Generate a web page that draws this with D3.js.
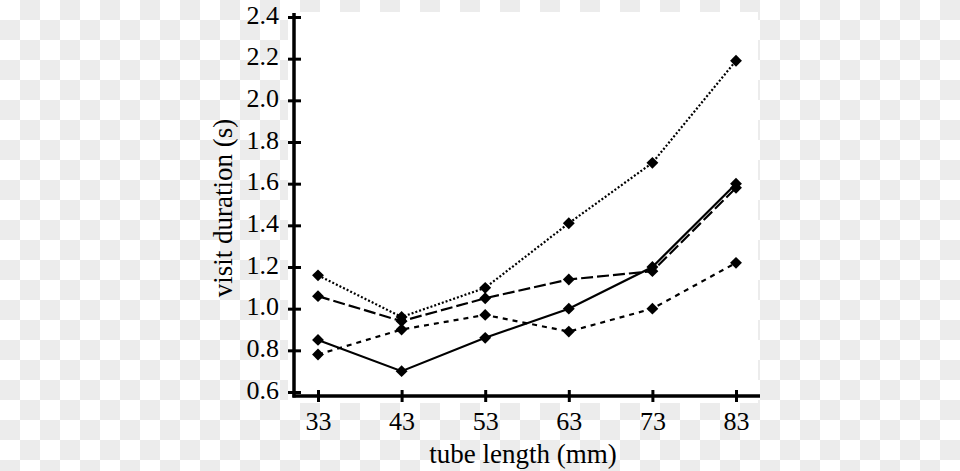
<!DOCTYPE html>
<html>
<head>
<meta charset="utf-8">
<script src="https://cdn.jsdelivr.net/npm/d3@7"></script>
<style>
body { margin: 0; }
</style>
</head>
<body>
<div id="chart"></div>
<script>
//////////
// Data //
//////////

var tubeLengths = [33, 43, 53, 63, 73, 83];
var yTicks = [0.6, 0.8, 1.0, 1.2, 1.4, 1.6, 1.8, 2.0, 2.2, 2.4];

var dottedSeries = [1.16, 0.96, 1.10, 1.41, 1.70, 2.19];
var longDashSeries = [1.06, 0.94, 1.05, 1.14, 1.18, 1.58];
var solidSeries = [0.85, 0.70, 0.86, 1.00, 1.20, 1.60];
var shortDashSeries = [0.78, 0.90, 0.97, 0.89, 1.00, 1.22];

var series = [
	{ values: dottedSeries, dash: "2,2" },
	{ values: longDashSeries, dash: "12,4" },
	{ values: solidSeries, dash: null },
	{ values: shortDashSeries, dash: "5,5" }
];

///////////
// Setup //
///////////

var width = 960, height = 471;
var svg = d3.select("#chart").append("svg")
	.attr("width", width).attr("height", height);

// checker background (transparent png look)
var defs = svg.append("defs");
var pat = defs.append("pattern").attr("id", "checker")
	.attr("width", 40).attr("height", 40).attr("patternUnits", "userSpaceOnUse");
pat.append("rect").attr("width", 40).attr("height", 40).attr("fill", "#fff");
pat.append("rect").attr("x", 20).attr("y", 0).attr("width", 20).attr("height", 20).attr("fill", "#ececec");
pat.append("rect").attr("x", 0).attr("y", 20).attr("width", 20).attr("height", 20).attr("fill", "#ececec");
svg.append("rect").attr("width", width).attr("height", height).attr("fill", "url(#checker)");

// white plot panel
svg.append("rect").attr("x", 288).attr("y", 12).attr("width", 470).attr("height", 391).attr("fill", "#fff");

// Scales
var x = d3.scalePoint().domain(tubeLengths).range([318, 736]);
var y = d3.scaleLinear().domain([0.6, 2.4]).range([392, 17]);

var font = "'Liberation Serif', 'Times New Roman', serif";

// Axes
var axisX = 294, axisY = 396;

var gx = svg.append("g").attr("transform", "translate(0," + axisY + ")")
	.call(d3.axisBottom(x).tickSize(6).tickPadding(0));
gx.select(".domain").remove();
gx.selectAll(".tick line").attr("y1", -6).attr("stroke", "#000").attr("stroke-width", 3);
gx.selectAll(".tick text").attr("y", 34).attr("dy", null)
	.attr("font-family", font).attr("font-size", "26px").attr("fill", "#000");

var gy = svg.append("g").attr("transform", "translate(" + axisX + ",0)")
	.call(d3.axisLeft(y).tickValues(yTicks).tickFormat(d3.format(".1f")).tickSize(6).tickPadding(0));
gy.select(".domain").remove();
gy.selectAll(".tick line").attr("x1", 7).attr("stroke", "#000").attr("stroke-width", 3);
gy.selectAll(".tick text").attr("x", -15).attr("dy", "6").attr("text-anchor", "end")
	.attr("font-family", font).attr("font-size", "26px").attr("fill", "#000");

svg.append("line").attr("x1", axisX).attr("x2", axisX).attr("y1", 13).attr("y2", axisY + 1.5)
	.attr("stroke", "#000").attr("stroke-width", 3.5);
svg.append("line").attr("x1", axisX - 1.5).attr("x2", 760).attr("y1", axisY).attr("y2", axisY)
	.attr("stroke", "#000").attr("stroke-width", 3.5);

// Axis titles
svg.append("text").text("tube length (mm)")
	.attr("x", 523).attr("y", 463).attr("text-anchor", "middle")
	.attr("font-family", font).attr("font-size", "27px").attr("fill", "#000");

svg.append("text").text("visit duration (s)")
	.attr("transform", "translate(232,208) rotate(-90)").attr("text-anchor", "middle")
	.attr("font-family", font).attr("font-size", "27px").attr("fill", "#000");

// Lines
var line = d3.line()
	.x(function(d, i) { return x(tubeLengths[i]); })
	.y(function(d) { return y(d); });

svg.selectAll("path.series").data(series).enter().append("path")
	.attr("class", "series")
	.attr("d", function(s) { return line(s.values); })
	.attr("fill", "none")
	.attr("stroke", "#000")
	.attr("stroke-width", 2.2)
	.attr("stroke-dasharray", function(s) { return s.dash; });

// Diamond markers
var diamond = d3.symbol().type(d3.symbolDiamond2).size(90);
series.forEach(function(s) {
	svg.append("g").selectAll("path").data(s.values).enter().append("path")
		.attr("d", diamond)
		.attr("transform", function(d, i) { return "translate(" + x(tubeLengths[i]) + "," + y(d) + ")"; })
		.attr("fill", "#000");
});
</script>
</body>
</html>
